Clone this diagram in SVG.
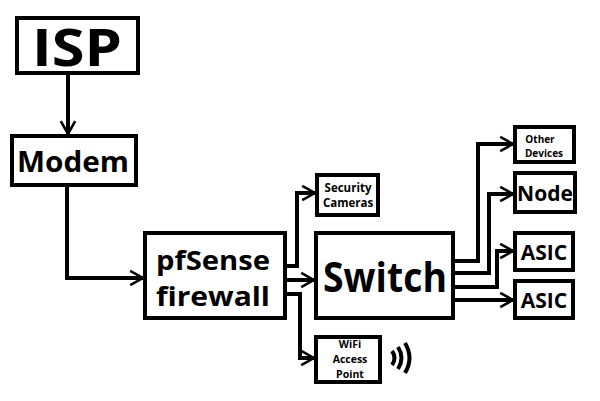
<svg xmlns="http://www.w3.org/2000/svg" width="600" height="401" viewBox="0 0 600 401">
<style>
.b{fill:#fff;stroke:#000;stroke-width:4}
.c{fill:none;stroke:#000;stroke-width:4}
text{font-family:"Open Sans","DejaVu Sans",sans-serif;font-weight:bold;fill:#000;text-anchor:middle}
</style>
<defs>
<marker id="a" viewBox="0 0 10 10" refX="9" refY="5" markerWidth="4" markerHeight="5" orient="auto" markerUnits="strokeWidth">
<path d="M1,0.5 L9,5 L1,9.5" fill="none" stroke="#000" stroke-width="1.6"/>
</marker>
</defs>
<rect width="600" height="401" fill="#fff"/>
<g id="connectors" class="c" marker-end="url(#a)">
<path d="M68,73 V134"/>
<path d="M67,185 V278 H143"/>
<path d="M285,266 H297 V193 H315"/>
<path d="M285,280 H314"/>
<path d="M285,294 H300 V358 H314"/>
<path d="M453,261 H478 V144 H513"/>
<path d="M453,273 H489 V194 H513"/>
<path d="M453,287 H497 V251 H513"/>
<path d="M453,300 H513"/>
</g>
<g id="isp"><rect class="b" x="17" y="18" width="121" height="55"/><text x="77" y="66" font-size="52" textLength="90" lengthAdjust="spacingAndGlyphs">ISP</text></g>
<g id="modem"><rect class="b" x="12" y="136" width="124" height="49"/><text x="73" y="172" font-size="28" textLength="112" lengthAdjust="spacingAndGlyphs">Modem</text></g>
<g id="pfsense"><rect class="b" x="145" y="233" width="140" height="85"/><text x="213" y="270" font-size="27" textLength="114" lengthAdjust="spacingAndGlyphs">pfSense</text><text x="213" y="306" font-size="27" textLength="114" lengthAdjust="spacingAndGlyphs">firewall</text></g>
<g id="switch"><rect class="b" x="316" y="233" width="137" height="85"/><text x="385" y="292" font-size="42" textLength="124" lengthAdjust="spacingAndGlyphs">Switch</text></g>
<g id="cameras"><rect class="b" x="317" y="175" width="61" height="40"/><text x="348" y="192" font-size="11.5">Security</text><text x="348" y="207" font-size="11.5">Cameras</text></g>
<g id="wifi"><rect class="b" x="316" y="337" width="64" height="45"/><text x="350" y="348" font-size="10.5">WiFi</text><text x="350" y="363" font-size="10.5">Access</text><text x="350" y="378" font-size="10.5">Point</text>
<path class="c" stroke-width="3" d="M392,351 q5,7 0,14 M398,347 q7,11 0,22 M405,343 q9,15 0,30"/></g>
<g id="other"><rect class="b" x="515" y="127" width="59" height="35"/><text x="540" y="143" font-size="10">Other</text><text x="544" y="157" font-size="10">Devices</text></g>
<g id="node"><rect class="b" x="515" y="173" width="60" height="39"/><text x="545" y="201" font-size="21">Node</text></g>
<g id="asic1"><rect class="b" x="515" y="233" width="58" height="37"/><text x="544" y="260" font-size="21">ASIC</text></g>
<g id="asic2"><rect class="b" x="515" y="281" width="58" height="37"/><text x="544" y="308" font-size="21">ASIC</text></g>
</svg>
